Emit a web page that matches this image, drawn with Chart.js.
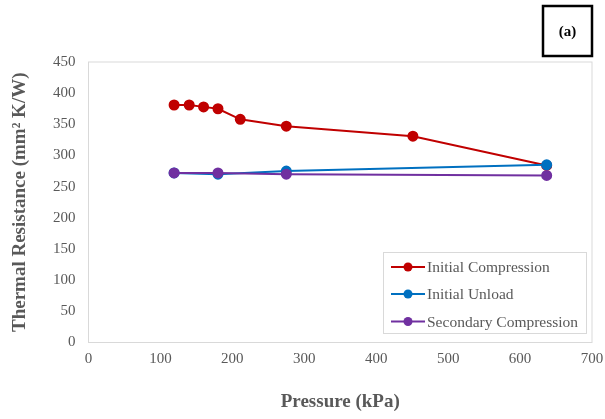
<!DOCTYPE html>
<html>
<head>
<meta charset="utf-8">
<script src="https://cdn.jsdelivr.net/npm/chart.js@4"></script>
<style>
  html, body { margin: 0; padding: 0; background: #fff; }
  #wrap { width: 605px; height: 419px; }
</style>
</head>
<body>
<div id="wrap"><canvas id="chart" width="605" height="419"></canvas></div>
<script>
// data
const seriesNames = ['Initial Compression', 'Initial Unload', 'Secondary Compression'];
const compressionX = [119, 140, 160, 180, 211, 275, 451, 637];
const compressionY = [381, 381, 378, 375, 358, 347, 331, 284];
const unloadX = [119, 180, 275, 637];
const unloadY = [272, 270, 275, 285];
const secondaryX = [119, 180, 275, 637];
const secondaryY = [272, 272, 270, 268];
const xTicks = [0, 100, 200, 300, 400, 500, 600, 700];
const yTicks = [0, 50, 100, 150, 200, 250, 300, 350, 400, 450];

const colors = ['#C00000', '#0070C0', '#7030A0'];
const serif = '"Liberation Serif", "Times New Roman", serif';
const textGray = '#595959';

function toPoints(xs, ys) {
    return xs.map((x, i) => ({ x: x, y: ys[i] }));
}

// plot frame, "(a)" box and the legend inside the plot
const decorations = {
    id: 'decorations',
    beforeDatasetsDraw(chart) {
        const { ctx, chartArea: a } = chart;
        ctx.save();
        ctx.strokeStyle = '#d9d9d9';
        ctx.lineWidth = 1;
        ctx.strokeRect(a.left, a.top, a.right - a.left, a.bottom - a.top);
        ctx.restore();
    },
    afterDatasetsDraw(chart) {
        const { ctx } = chart;
        ctx.save();
        // panel label
        ctx.strokeStyle = '#000';
        ctx.lineWidth = 2.5;
        ctx.strokeRect(543, 6, 49, 50);
        ctx.fillStyle = '#000';
        ctx.font = 'bold 15px ' + serif;
        ctx.textAlign = 'center';
        ctx.textBaseline = 'middle';
        ctx.fillText('(a)', 567.5, 32);

        // legend
        ctx.fillStyle = '#fff';
        ctx.fillRect(383, 252, 204, 82);
        ctx.strokeStyle = '#d9d9d9';
        ctx.lineWidth = 1;
        ctx.strokeRect(383.5, 252.5, 203, 81);
        const rows = [267, 294, 321.5];
        chart.data.datasets.forEach((ds, i) => {
            const y = rows[i];
            ctx.strokeStyle = ds.borderColor;
            ctx.lineWidth = 2;
            ctx.beginPath();
            ctx.moveTo(391, y);
            ctx.lineTo(425, y);
            ctx.stroke();
            ctx.fillStyle = ds.borderColor;
            ctx.beginPath();
            ctx.arc(408, y, 4.5, 0, Math.PI * 2);
            ctx.fill();
            ctx.fillStyle = textGray;
            ctx.font = '15.5px ' + serif;
            ctx.textAlign = 'left';
            ctx.textBaseline = 'middle';
            ctx.fillText(ds.label, 427, y + 1);
        });
        ctx.restore();
    }
};

const datasets = [
    toPoints(compressionX, compressionY),
    toPoints(unloadX, unloadY),
    toPoints(secondaryX, secondaryY)
].map((pts, i) => ({
    label: seriesNames[i],
    data: pts,
    borderColor: colors[i],
    backgroundColor: colors[i],
    pointBackgroundColor: colors[i],
    pointBorderColor: colors[i],
    pointRadius: 4.5,
    borderWidth: 2,
    tension: 0,
    order: 3 - i
}));

new Chart(document.getElementById('chart'), {
    type: 'scatter',
    data: { datasets: datasets },
    options: {
        responsive: false,
        animation: false,
        showLine: true,
        layout: { padding: { top: 62, right: 13, left: 0, bottom: 0 } },
        plugins: {
            legend: { display: false },
            tooltip: { enabled: false }
        },
        scales: {
            x: {
                type: 'linear',
                min: 0,
                max: 700,
                afterBuildTicks: (s) => { s.ticks = xTicks.map(v => ({ value: v })); },
                afterFit: (s) => { s.height = 76.5; s.paddingLeft = 0; s.paddingRight = 0; },
                grid: { display: false, drawTicks: false, tickLength: 0 },
                border: { display: false },
                ticks: { color: textGray, font: { family: serif, size: 15 }, padding: 8, maxRotation: 0 },
                title: {
                    display: true,
                    text: 'Pressure (kPa)',
                    color: textGray,
                    font: { family: serif, size: 19, weight: 'bold' },
                    padding: { top: 0, bottom: 6 }
                }
            },
            y: {
                min: 0,
                max: 450,
                afterBuildTicks: (s) => { s.ticks = yTicks.map(v => ({ value: v })); },
                afterFit: (s) => { s.width = 88.5; s.paddingTop = 0; s.paddingBottom = 0; },
                grid: { display: false, drawTicks: false, tickLength: 0 },
                border: { display: false },
                ticks: { color: textGray, font: { family: serif, size: 15 }, padding: 13 },
                title: {
                    display: true,
                    text: 'Thermal Resistance (mm² K/W)',
                    color: textGray,
                    font: { family: serif, size: 19, weight: 'bold' },
                    padding: { top: 9, bottom: 0 }
                }
            }
        }
    },
    plugins: [decorations]
});
</script>
</body>
</html>
